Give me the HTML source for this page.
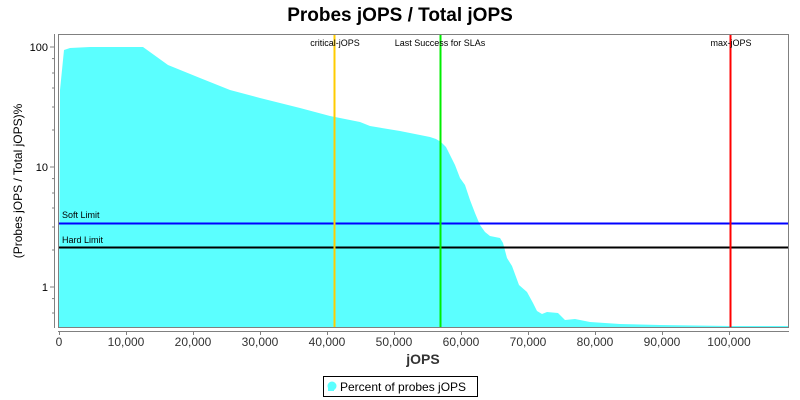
<!DOCTYPE html>
<html><head><meta charset="utf-8"><style>
body{margin:0;background:#fff;}
svg{display:block;font-family:"Liberation Sans","DejaVu Sans",sans-serif;}
</style></head><body>
<svg width="800" height="400" viewBox="0 0 800 400" xmlns="http://www.w3.org/2000/svg">
<rect width="800" height="400" fill="#fff"/>
<text x="400" y="21" text-anchor="middle" font-size="19" font-weight="bold" fill="#000">Probes jOPS / Total jOPS</text>
<polygon fill="#5bffff" points="59,327 60,90 62,70 64,50 70,48 90,47 143,47 168,65 200,78 230,90 260,98 300,108 330,116 360,122 370,126 400,131 430,137 436,139 441,142 446,147 450,155 455,165 460,178 465,185 470,200 475,213 480,225 485,232 490,236 500,238 503,243 507,258 512,266 519,285 527,292 533,303 537,311 542,314 547,312 558,313 565,320 575,319 590,322 620,324 660,325 730,326 788,326 788,327"/>
<rect x="58.5" y="34.5" width="730" height="293" fill="none" stroke="#808080"/>
<line x1="58" y1="331.5" x2="789" y2="331.5" stroke="#808080"/>
<line x1="54.5" y1="34" x2="54.5" y2="328" stroke="#808080"/>
<g stroke="#808080">
<line x1="50" y1="47" x2="54" y2="47"/><line x1="50" y1="167" x2="54" y2="167"/><line x1="50" y1="287" x2="54" y2="287"/>
<line x1="52" y1="58.6" x2="54" y2="58.6"/><line x1="52" y1="73" x2="54" y2="73"/><line x1="52" y1="88" x2="54" y2="88"/><line x1="52" y1="107" x2="54" y2="107"/><line x1="52" y1="130" x2="54" y2="130"/>
<line x1="52" y1="178.6" x2="54" y2="178.6"/><line x1="52" y1="193" x2="54" y2="193"/><line x1="52" y1="208" x2="54" y2="208"/><line x1="52" y1="227" x2="54" y2="227"/><line x1="52" y1="250" x2="54" y2="250"/>
<line x1="52" y1="298.6" x2="54" y2="298.6"/><line x1="52" y1="313" x2="54" y2="313"/>
</g>
<g font-size="11" fill="#000" text-anchor="end">
<text x="48" y="51">100</text><text x="48" y="171">10</text><text x="48" y="291">1</text>
</g>
<text transform="translate(22,181) rotate(-90)" text-anchor="middle" font-size="12" fill="#000">(Probes jOPS / Total jOPS)%</text>
<g stroke="#808080">
<line x1="59.5" y1="331" x2="59.5" y2="335"/><line x1="126.5" y1="331" x2="126.5" y2="335"/><line x1="193.5" y1="331" x2="193.5" y2="335"/><line x1="260.5" y1="331" x2="260.5" y2="335"/><line x1="327.5" y1="331" x2="327.5" y2="335"/><line x1="394.5" y1="331" x2="394.5" y2="335"/><line x1="461.5" y1="331" x2="461.5" y2="335"/><line x1="528.5" y1="331" x2="528.5" y2="335"/><line x1="595.5" y1="331" x2="595.5" y2="335"/><line x1="662.5" y1="331" x2="662.5" y2="335"/><line x1="729.5" y1="331" x2="729.5" y2="335"/>
</g>
<g font-size="12" fill="#333" text-anchor="middle">
<text x="59" y="346">0</text><text x="126" y="346">10,000</text><text x="193" y="346">20,000</text><text x="260" y="346">30,000</text><text x="327" y="346">40,000</text><text x="394" y="346">50,000</text><text x="461" y="346">60,000</text><text x="528" y="346">70,000</text><text x="595" y="346">80,000</text><text x="662" y="346">90,000</text><text x="729" y="346">100,000</text>
</g>
<text x="423" y="364" text-anchor="middle" font-size="14" font-weight="bold" fill="#333">jOPS</text>
<line x1="59" y1="223.5" x2="788" y2="223.5" stroke="#0000ff" stroke-width="2"/>
<line x1="59" y1="247.5" x2="788" y2="247.5" stroke="#000" stroke-width="2"/>
<line x1="334.5" y1="35" x2="334.5" y2="327" stroke="#ffcc00" stroke-width="2"/>
<line x1="440.5" y1="35" x2="440.5" y2="327" stroke="#00ee00" stroke-width="2"/>
<line x1="730.5" y1="35" x2="730.5" y2="327" stroke="#ff0000" stroke-width="2"/>
<g font-size="9" fill="#000">
<text x="62" y="218">Soft Limit</text><text x="62" y="243">Hard Limit</text>
<text x="335" y="46" text-anchor="middle">critical-jOPS</text>
<text x="440" y="46" text-anchor="middle">Last Success for SLAs</text>
<text x="731" y="46" text-anchor="middle">max-jOPS</text>
</g>
<rect x="323.5" y="376.5" width="154" height="20" fill="#fff" stroke="#000"/>
<path d="M328,391 L334,391 L334,385 Q331,380 328,385 Z" fill="#5bffff"/>
<circle cx="332" cy="386" r="4.5" fill="#5bffff"/>
<text x="340" y="391" font-size="12" fill="#000">Percent of probes jOPS</text>
</svg>
</body></html>
